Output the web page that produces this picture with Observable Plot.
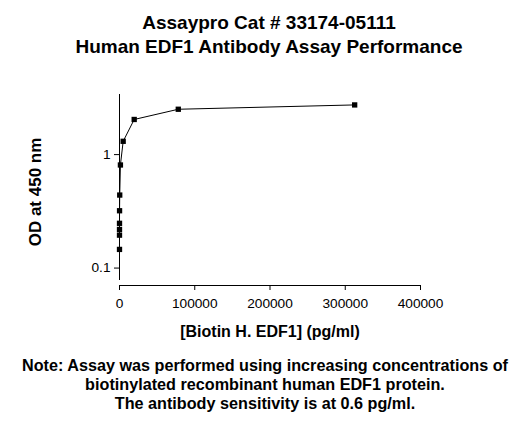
<!DOCTYPE html>
<html>
<head>
<meta charset="utf-8">
<script src="https://cdn.jsdelivr.net/npm/d3@7"></script>
<script src="https://cdn.jsdelivr.net/npm/@observablehq/plot@0.6"></script>
<style>
  html, body { margin: 0; padding: 0; background: white; }
  body { width: 530px; height: 425px; font-family: "Liberation Sans", Arial, sans-serif; color: black; }
  #title { height: 60px; box-sizing: border-box; padding-top: 11px; text-align: center; font-weight: bold; font-size: 19px; line-height: 24px; width: 538px; }
  #chart { height: 285px; }
  #chart svg { display: block; }
  #note { margin-top: 11px; text-align: center; font-weight: bold; font-size: 16.2px; line-height: 19px; width: 530px; }
</style>
</head>
<body>
<div id="title">Assaypro Cat # 33174-05111<br>Human EDF1 Antibody Assay Performance</div>
<div id="chart"></div>
<div id="note">Note: Assay was performed using increasing concentrations of<br>biotinylated recombinant human EDF1 protein.<br>The antibody sensitivity is at 0.6 pg/ml.</div>
<script>
const concentrations = [0.3, 1.2, 4.8, 19, 76, 305, 1221, 4883, 19531, 78125, 312500];
const odValues = [0.146, 0.195, 0.219, 0.248, 0.32, 0.44, 0.81, 1.31, 2.04, 2.51, 2.74];
const xTicks = [0, 100000, 200000, 300000, 400000];
const yTicks = [0.1, 1];
const xTitle = "[Biotin H. EDF1] (pg/ml)";
const yTitle = "OD at 450 nm";

const data = concentrations.map((c, i) => ({conc: c, od: odValues[i]}));
const yDomain = [0.0702, 3.386];

const chart = Plot.plot({
  width: 530,
  height: 285,
  marginTop: 34,
  marginBottom: 60,
  marginLeft: 119,
  marginRight: 110,
  style: {fontFamily: "'Liberation Sans', Arial, sans-serif", fontSize: "13.7px", color: "black", background: "white", overflow: "visible"},
  x: {domain: [0, 400000]},
  y: {type: "log", domain: yDomain},
  marks: [
    Plot.axisX({ticks: xTicks, tickSize: 5, tickPadding: 8, label: null, tickFormat: d => String(d)}),
    Plot.axisY({ticks: yTicks, tickSize: 5, tickPadding: 4, label: null, tickFormat: d => String(d)}),
    Plot.ruleX([0], {stroke: "black", insetBottom: 5}),
    Plot.ruleY([yDomain[0]], {stroke: "black"}),
    Plot.line(data, {x: "conc", y: "od", stroke: "black", strokeWidth: 1}),
    Plot.dot(data, {x: "conc", y: "od", symbol: "square", fill: "black", r: 3}),
    Plot.text([xTitle], {frameAnchor: "bottom", text: d => d, dy: 46, textAnchor: "middle", lineAnchor: "middle", fontWeight: "bold", fontSize: 16}),
    Plot.text([yTitle], {frameAnchor: "left", text: d => d, rotate: -90, dx: -84, dy: 2, textAnchor: "middle", lineAnchor: "middle", fontWeight: "bold", fontSize: 17})
  ]
});
document.getElementById("chart").appendChild(chart);
</script>
</body>
</html>
